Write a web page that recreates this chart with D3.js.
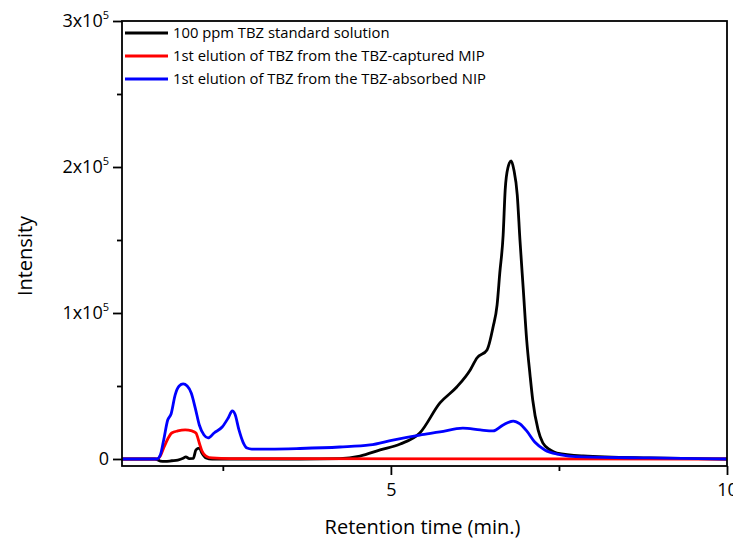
<!DOCTYPE html>
<html>
<head>
<meta charset="utf-8">
<script src="https://cdn.jsdelivr.net/npm/d3@7/dist/d3.min.js"></script>
<style>
  html, body { margin: 0; padding: 0; background: #fff; }
  svg { display: block; font-family: "Open Sans", "Noto Sans", sans-serif; }
</style>
</head>
<body>
<svg id="chart" width="733" height="542"></svg>
<script>
// Chromatogram traces: retention time (min) and detector intensity
const stdTime = [1.00, 1.49, 1.57, 1.64, 1.74, 1.83, 1.91, 1.95, 2.00, 2.06, 2.10, 2.15, 2.19, 2.25, 2.34, 3.65, 4.24, 4.54, 4.84, 5.14, 5.43, 5.73, 5.98, 6.18, 6.28, 6.43, 6.52, 6.58, 6.62, 6.67, 6.70, 6.74, 6.79, 6.83, 6.88, 6.92, 6.97, 7.02, 7.07, 7.11, 7.19, 7.26, 7.37, 7.47, 7.86, 8.85, 10.00];
const stdIntensity = [0, 0, -1400, -1700, -1200, -700, 500, 1400, 300, 400, 6200, 7500, 4000, 800, 0, 0, 300, 2000, 6200, 10300, 17800, 38400, 49300, 61000, 69200, 74700, 90400, 105500, 127400, 153400, 184200, 199300, 204100, 197900, 180800, 150000, 115800, 81500, 57500, 40400, 19900, 11000, 6200, 4100, 2100, 700, 0];

const mipTime = [1.00, 1.52, 1.57, 1.62, 1.68, 1.74, 1.83, 1.94, 2.04, 2.10, 2.15, 2.19, 2.25, 2.34, 2.61, 10.00];
const mipIntensity = [0, 0, 2000, 7500, 13700, 17800, 19200, 19900, 19200, 17800, 11000, 5500, 2000, 700, 300, 0];

const nipTime = [1.00, 1.42, 1.52, 1.57, 1.62, 1.68, 1.73, 1.79, 1.85, 1.91, 1.97, 2.03, 2.09, 2.15, 2.22, 2.28, 2.37, 2.49, 2.58, 2.64, 2.68, 2.74, 2.80, 2.86, 2.93, 3.20, 3.65, 4.24, 4.69, 5.03, 5.43, 5.73, 6.07, 6.33, 6.52, 6.67, 6.82, 6.92, 7.02, 7.14, 7.29, 7.47, 7.86, 8.85, 10.00];
const nipIntensity = [0, 0, 0, 2700, 13000, 26700, 30800, 43800, 50000, 51400, 50000, 45200, 34900, 23300, 16400, 14400, 17800, 21900, 28100, 32900, 30800, 19900, 11600, 7500, 6800, 6800, 7200, 8200, 9600, 13000, 16400, 18500, 21200, 19900, 19200, 23300, 26000, 24000, 19200, 11600, 6200, 3400, 1400, 700, 0];

const seriesNames = [
  "100 ppm TBZ standard solution",
  "1st elution of TBZ from the TBZ-captured MIP",
  "1st elution of TBZ from the TBZ-absorbed NIP"
];
const seriesColors = ["#000000", "#ff0000", "#0000ff"];

const xMajorTicks = [5, 10];
const xMinorTicks = [2.5, 7.5];
const yMajorTicks = [0, 100000, 200000, 300000];
const yMinorTicks = [50000, 150000, 250000];

const svg = d3.select("#chart");
const margin = { left: 122, top: 21, right: 6, bottom: 76 };
const W = 733, H = 542;
const x = d3.scaleLinear().domain([1, 10]).range([margin.left, W - margin.right]);
const y = d3.scaleLinear().domain([-4800, 300000]).range([H - margin.bottom, margin.top]);

const traces = [
  { t: stdTime, v: stdIntensity },
  { t: mipTime, v: mipIntensity },
  { t: nipTime, v: nipIntensity }
];

const line = d3.line()
  .x(d => x(d[0]))
  .y(d => y(d[1]))
  .curve(d3.curveMonotoneX);

const plot = svg.append("g");
plot.append("clipPath").attr("id", "clip")
  .append("rect")
  .attr("x", x(1)).attr("y", y(300000))
  .attr("width", x(10) - x(1)).attr("height", y(-4800) - y(300000));

traces.forEach((tr, i) => {
  plot.append("path")
    .datum(tr.t.map((t, k) => [t, tr.v[k]]))
    .attr("d", line)
    .attr("fill", "none")
    .attr("stroke", seriesColors[i])
    .attr("stroke-width", 2.8)
    .attr("stroke-linejoin", "round")
    .attr("clip-path", "url(#clip)");
});

// Frame
svg.append("rect")
  .attr("x", x(1)).attr("y", y(300000))
  .attr("width", x(10) - x(1)).attr("height", y(-4800) - y(300000))
  .attr("fill", "none").attr("stroke", "#000").attr("stroke-width", 1.8);

// Y axis
const yAxisG = svg.append("g").attr("transform", `translate(${x(1)},0)`)
  .call(d3.axisLeft(y).tickValues(yMajorTicks).tickSize(9).tickPadding(4).tickFormat(""));
yAxisG.call(g => g.select(".domain").remove());
yAxisG.selectAll(".tick line").attr("stroke", "#000").attr("stroke-width", 1.8);
yAxisG.selectAll(".tick text").each(function(d) {
  const t = d3.select(this)
    .attr("font-size", 18).attr("fill", "#000")
    .attr("font-family", "'Open Sans', sans-serif");
  if (d === 0) {
    t.text("0");
  } else {
    t.append("tspan").text(`${d / 100000}x10`);
    t.append("tspan").text("5").attr("font-size", 11).attr("dy", -8);
  }
});
yAxisG.selectAll(".tick text").attr("dy", "0.32em");

const yMinorG = svg.append("g").attr("transform", `translate(${x(1)},0)`)
  .call(d3.axisLeft(y).tickValues(yMinorTicks).tickSize(5).tickFormat(""));
yMinorG.call(g => g.select(".domain").remove());
yMinorG.selectAll(".tick line").attr("stroke", "#000").attr("stroke-width", 1.8);

// X axis
const xAxisG = svg.append("g").attr("transform", `translate(0,${y(-4800)})`)
  .call(d3.axisBottom(x).tickValues(xMajorTicks).tickSize(9).tickPadding(8).tickFormat(d3.format("d")));
xAxisG.call(g => g.select(".domain").remove());
xAxisG.selectAll(".tick line").attr("stroke", "#000").attr("stroke-width", 1.8);
xAxisG.selectAll(".tick text").attr("font-size", 18).attr("fill", "#000")
  .attr("font-family", "'Open Sans', sans-serif");

const xMinorG = svg.append("g").attr("transform", `translate(0,${y(-4800)})`)
  .call(d3.axisBottom(x).tickValues(xMinorTicks).tickSize(5).tickFormat(""));
xMinorG.call(g => g.select(".domain").remove());
xMinorG.selectAll(".tick line").attr("stroke", "#000").attr("stroke-width", 1.8);

// Axis titles
svg.append("text")
  .attr("x", (x(1) + x(10)) / 2 - 2).attr("y", 534)
  .attr("text-anchor", "middle").attr("font-size", 20).attr("fill", "#000")
  .text("Retention time (min.)");

svg.append("text")
  .attr("transform", `translate(32,256) rotate(-90)`)
  .attr("text-anchor", "middle").attr("font-size", 20).attr("fill", "#000")
  .text("Intensity");

// Legend
const legend = svg.append("g");
seriesNames.forEach((name, i) => {
  const ly = 33 + i * 23;
  legend.append("line")
    .attr("x1", 125).attr("x2", 168).attr("y1", ly).attr("y2", ly)
    .attr("stroke", seriesColors[i]).attr("stroke-width", 2.8);
  legend.append("text")
    .attr("x", 173).attr("y", ly).attr("dy", "0.35em")
    .attr("font-size", 14.8).attr("fill", "#000")
    .text(name);
});
</script>
</body>
</html>
